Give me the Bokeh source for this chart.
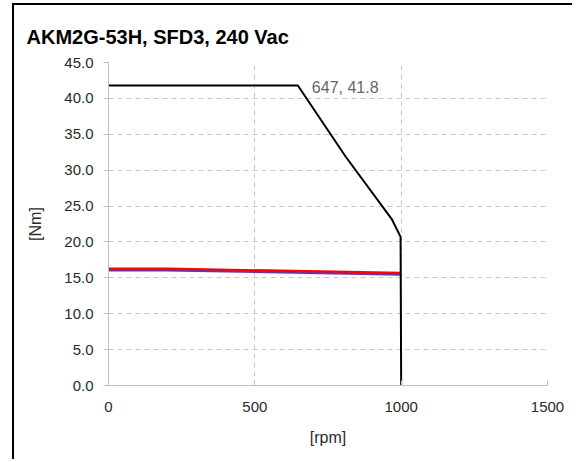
from bokeh.plotting import figure
from bokeh.models import Range1d, FixedTicker, Label, Title
from bokeh.embed import file_html
from bokeh.resources import INLINE

# data
peak_rpm = [0, 647, 810, 969, 998, 1000]
peak_torque = [41.8, 41.8, 31.9, 23.1, 20.7, 0.0]
cont_red_rpm = [0, 200, 1000]
cont_red_torque = [16.3, 16.3, 15.7]
cont_purple_rpm = [0, 200, 1000]
cont_purple_torque = [16.1, 16.1, 15.5]
x_ticks = [0, 500, 1000, 1500]
y_ticks = [0, 5, 10, 15, 20, 25, 30, 35, 40, 45]
knee_label = "647, 41.8"
knee_point = (647, 41.8)

FONT = "Liberation Sans"
W, H = 560, 456

p = figure(width=W, height=H, output_backend="svg", toolbar_location=None,
           x_range=Range1d(0, 1500), y_range=Range1d(0, 45),
           min_border_left=94, min_border_right=27,
           min_border_top=57, min_border_bottom=76,
           background_fill_color="white", border_fill_color="white",
           outline_line_color=None)
p.styles = {"border-left": "2px solid black", "border-top": "2px solid black",
            "margin-left": "12px", "margin-top": "3px"}

p.title = Title(text="AKM2G-53H, SFD3, 240 Vac", align="left", offset=-82,
                text_font=FONT, text_font_size="20px", text_font_style="bold",
                text_color="#000000", standoff=30)

# axes
for ax in (p.xaxis[0], p.yaxis[0]):
    ax.axis_line_color = "#c0c0c0"
    ax.major_tick_line_color = "#c0c0c0"
    ax.minor_tick_line_color = None
    ax.major_label_text_font = FONT
    ax.major_label_text_font_size = "15px"
    ax.major_label_text_color = "#2a2a2a"
    ax.axis_label_text_font = FONT
    ax.axis_label_text_font_size = "16px"
    ax.axis_label_text_font_style = "normal"
    ax.axis_label_text_color = "#2a2a2a"

p.xaxis.ticker = FixedTicker(ticks=x_ticks)
p.xaxis.major_label_overrides = {t: str(t) for t in x_ticks}
p.xaxis.major_tick_in = 5
p.xaxis.major_tick_out = 0
p.xaxis.major_label_standoff = 16
p.xaxis.axis_label = "[rpm]"
p.xaxis.axis_label_standoff = 14

p.yaxis.ticker = FixedTicker(ticks=y_ticks)
p.yaxis.major_label_overrides = {t: f"{t:.1f}" for t in y_ticks}
p.yaxis.major_tick_in = 0
p.yaxis.major_tick_out = 5
p.yaxis.major_label_standoff = 10
p.yaxis.axis_label = "[Nm]"
p.yaxis.axis_label_standoff = 17

p.xgrid.ticker = FixedTicker(ticks=[t for t in x_ticks if 0 < t < 1500])
p.ygrid.ticker = FixedTicker(ticks=[t for t in y_ticks if 0 < t < 45])
for g in (p.xgrid[0], p.ygrid[0]):
    g.grid_line_color = "#c8c8c8"
    g.grid_line_dash = "5 4"
    g.grid_line_width = 1

p.line(cont_purple_rpm, cont_purple_torque, line_color="#7030a0", line_width=3)
p.line(cont_red_rpm, cont_red_torque, line_color="#ff0000", line_width=2)
p.line(peak_rpm, peak_torque, line_color="#000000", line_width=2)

p.add_layout(Label(x=knee_point[0], y=knee_point[1], text=knee_label,
                   x_offset=14, y_offset=-2, text_baseline="middle",
                   text_font=FONT, text_font_size="16px", text_color="#666666"))

open("out.html", "w").write(file_html(p, INLINE))
